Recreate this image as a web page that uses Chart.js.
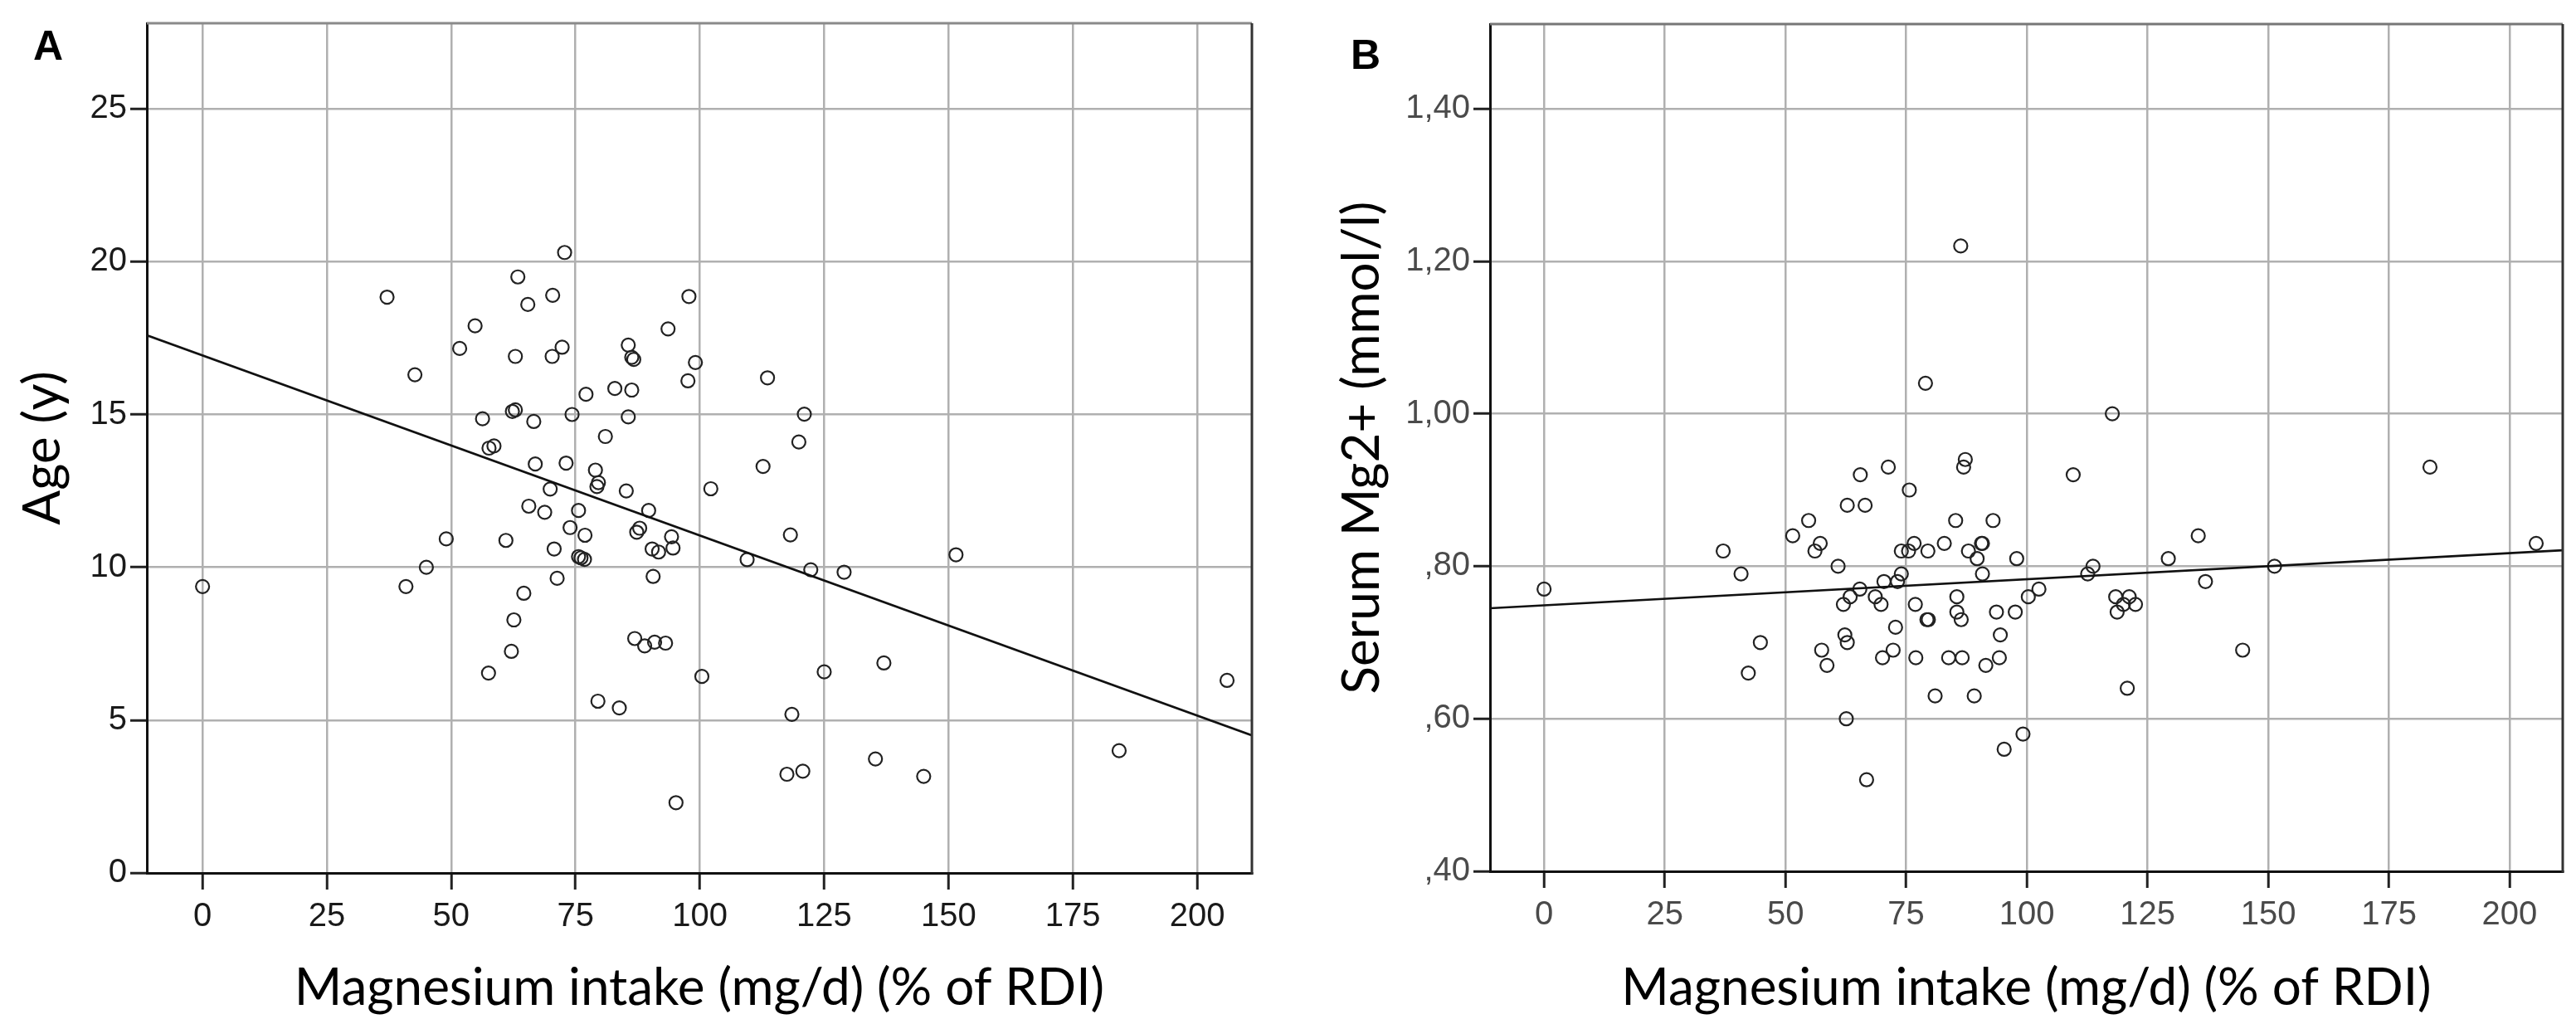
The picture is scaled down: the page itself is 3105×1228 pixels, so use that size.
<!DOCTYPE html>
<html>
<head>
<meta charset="utf-8">
<script src="https://cdn.jsdelivr.net/npm/chart.js@4.4.1/dist/chart.umd.min.js"></script>
<style>
  html, body { margin: 0; padding: 0; background: #fff; }
  body { width: 3105px; height: 1228px; position: relative; overflow: hidden; }
  canvas { position: absolute; top: 0; }
  #chartA { left: 0; }
  #chartB { left: 1560px; }
  .panel-label { position: absolute; font: bold 50px 'Liberation Sans', Arial, sans-serif; line-height: 50px; color: #000; }
</style>
</head>
<body>
<canvas id="chartA" width="1560" height="1228"></canvas>
<canvas id="chartB" width="1545" height="1228"></canvas>
<div class="panel-label" style="left:40px; top:30px">A</div>
<div class="panel-label" style="left:1628px; top:41px">B</div>
<script>
// Panel A: magnesium intake (% of RDI) vs age
const intakeA = [72.8, 63.4, 37.1, 70.4, 65.4, 97.8, 54.8, 93.6, 51.7, 72.3,
  62.9, 70.3, 85.6, 86.3, 86.7, 99.1, 42.7, 113.6, 97.6, 77.1,
  82.9, 86.3, 62.3, 62.9, 56.3, 66.6, 74.3, 85.6, 121.0, 81.0,
  119.9, 57.6, 58.6, 66.9, 73.1, 79.0, 112.7, 79.6, 79.3, 69.9,
  85.2, 102.2, 65.6, 68.8, 75.6, 89.7, 73.9, 76.9, 87.3, 87.9,
  94.3, 94.6, 90.4, 91.7, 118.2, 49.0, 61.0, 70.7, 75.6, 76.1,
  76.8, 109.5, 122.3, 129.0, 45.0, 40.9, 71.3, 90.6, 64.6, 62.6,
  62.1, 57.5, 86.9, 88.9, 90.9, 93.1, 100.4, 125.0, 79.5, 83.8,
  118.5, 117.5, 120.7, 95.2, 0, 135.3, 137.0, 145.0, 151.5, 184.3,
  206.0];
const ageA = [20.3, 19.5, 18.84, 18.9, 18.6, 18.86, 17.9, 17.8, 17.16, 17.2,
  16.9, 16.9, 17.27, 16.87, 16.8, 16.7, 16.3, 16.2, 16.1, 15.66,
  15.85, 15.8, 15.1, 15.15, 14.86, 14.77, 15.0, 14.92, 15.01, 14.28,
  14.1, 13.9, 13.97, 13.38, 13.41, 13.18, 13.3, 12.77, 12.64, 12.56,
  12.5, 12.57, 12.0, 11.8, 11.86, 11.86, 11.3, 11.05, 11.15, 11.28,
  11.0, 10.63, 10.6, 10.5, 11.06, 10.93, 10.88, 10.6, 10.35, 10.31,
  10.26, 10.25, 9.92, 9.84, 10.0, 9.37, 9.64, 9.7, 9.15, 8.28,
  7.25, 6.54, 7.67, 7.43, 7.55, 7.52, 6.43, 6.58, 5.62, 5.4,
  5.19, 3.23, 3.33, 2.3, 9.37, 3.73, 6.87, 3.16, 10.41, 4.0,
  6.3];

// Panel B: magnesium intake (% of RDI) vs serum Mg2+
const intakeB = [86.3, 79.0, 117.7, 87.25, 86.9, 109.6, 71.3, 65.5, 75.65, 62.8,
  66.5, 54.8, 85.25, 93.0, 51.5, 135.5, 37.1, 57.2, 56.1, 74.0,
  75.5, 76.65, 79.5, 82.9, 87.9, 90.6, 90.8, 89.7, 97.9, 129.3,
  40.8, 60.9, 74.0, 90.8, 113.7, 112.6, 151.3, 137.0, 70.4, 73.2,
  65.4, 102.5, 63.4, 68.6, 85.5, 100.3, 118.4, 121.2, 62.0, 69.8,
  76.9, 122.5, 120.0, 85.5, 86.4, 79.3, 79.6, 93.7, 97.6, 118.7,
  72.8, 94.5, 62.3, 62.8, 44.8, 57.5, 72.3, 144.7, 58.6, 70.1,
  77.0, 83.8, 86.6, 94.3, 91.5, 42.3, 120.8, 81.0, 89.1, 62.6,
  99.2, 95.3, 66.8, 0, 183.5, 205.5];
const serumB = [1.22, 1.04, 1.00, 0.94, 0.93, 0.92, 0.93, 0.92, 0.90, 0.88,
  0.88, 0.86, 0.86, 0.86, 0.84, 0.84, 0.82, 0.83, 0.82, 0.82,
  0.82, 0.83, 0.82, 0.83, 0.82, 0.83, 0.83, 0.81, 0.81, 0.81,
  0.79, 0.80, 0.79, 0.79, 0.80, 0.79, 0.80, 0.78, 0.78, 0.78,
  0.77, 0.77, 0.76, 0.76, 0.76, 0.76, 0.76, 0.76, 0.75, 0.75,
  0.75, 0.75, 0.75, 0.74, 0.73, 0.73, 0.73, 0.74, 0.74, 0.74,
  0.72, 0.71, 0.71, 0.70, 0.70, 0.69, 0.69, 0.69, 0.67, 0.68,
  0.68, 0.68, 0.68, 0.68, 0.67, 0.66, 0.64, 0.63, 0.63, 0.60,
  0.58, 0.56, 0.52, 0.77, 0.93, 0.83];

// fitted lines, read at both ends of the x range
const fitX = [-11.2, 211];
const fitA = [17.59, 4.5];
const fitB = [0.745, 0.821];

// ticks
const xTicks = [0, 25, 50, 75, 100, 125, 150, 175, 200];
const yTicksA = [0, 5, 10, 15, 20, 25];
const yTicksB = [0.4, 0.6, 0.8, 1.0, 1.2, 1.4];
const yLabelsB = [',40', ',60', ',80', '1,00', '1,20', '1,40'];

const tickFont = { family: "'Liberation Sans Narrow', 'Liberation Sans', sans-serif", size: 40 };
const titleFont = { family: 'Lato, sans-serif', size: 62 };

const framePlugin = {
  id: 'frame',
  afterDatasetsDraw(chart, args, opts) {
    const { ctx, chartArea: a } = chart;
    ctx.save();
    ctx.lineWidth = 3;
    ctx.strokeStyle = opts.topColor;
    ctx.beginPath();
    ctx.moveTo(a.left, a.top);
    ctx.lineTo(a.right, a.top);
    ctx.stroke();
    ctx.strokeStyle = opts.rightColor;
    ctx.beginPath();
    ctx.moveTo(a.right, a.top);
    ctx.lineTo(a.right, a.bottom + 1.5);
    ctx.stroke();
    ctx.restore();
  }
};

const buildChart = (canvasId, xs, ys, fitY, cfg) => {
  const points = xs.map((x, i) => ({ x, y: ys[i] }));
  const fit = fitX.map((x, i) => ({ x, y: fitY[i] }));

  return new Chart(document.getElementById(canvasId), {
    type: 'scatter',
    data: {
      datasets: [
        {
          data: points,
          pointStyle: 'circle',
          pointRadius: 8,
          pointBorderWidth: 2.2,
          pointBackgroundColor: 'rgba(0,0,0,0)',
          pointBorderColor: '#222',
          order: 2,
        },
        {
          data: fit,
          showLine: true,
          pointRadius: 0,
          borderColor: '#111',
          borderWidth: 2.6,
          order: 1,
        },
      ],
    },
    plugins: [framePlugin],
    options: {
      responsive: false,
      animation: false,
      events: [],
      layout: { padding: cfg.padding },
      plugins: {
        legend: { display: false },
        tooltip: { enabled: false },
        frame: { topColor: cfg.topColor, rightColor: '#333' },
      },
      scales: {
        x: {
          type: 'linear',
          min: fitX[0],
          max: fitX[1],
          afterBuildTicks: s => { s.ticks = xTicks.map(v => ({ value: v })); },
          afterFit: s => { s.height = cfg.xAxisHeight; },
          grid: { color: '#b0b0b0', lineWidth: 2.5, tickColor: '#222', tickLength: 20, tickWidth: 3 },
          border: { color: '#111', width: 3 },
          ticks: { font: tickFont, color: cfg.tickColor, padding: 9, maxRotation: 0, autoSkip: false },
          title: {
            display: true,
            text: 'Magnesium intake (mg/d) (% of RDI)',
            font: titleFont,
            color: '#000',
            padding: { top: 10, bottom: 0 },
          },
        },
        y: {
          type: 'linear',
          min: cfg.yMin,
          max: cfg.yMax,
          afterBuildTicks: s => { s.ticks = cfg.yTicks.map(v => ({ value: v })); },
          afterFit: s => { s.width = cfg.yAxisWidth; },
          grid: { color: '#b0b0b0', lineWidth: 2.5, tickColor: '#222', tickLength: 20, tickWidth: 3 },
          border: { color: '#111', width: 3 },
          ticks: {
            font: tickFont,
            color: cfg.tickColor,
            padding: 4,
            autoSkip: false,
            callback: (v, i) => cfg.yLabels[i],
          },
          title: {
            display: true,
            text: cfg.yTitle,
            font: titleFont,
            color: '#000',
            padding: { top: cfg.yTitlePad, bottom: 0 },
          },
        },
      },
    },
  });
};

buildChart('chartA', intakeA, ageA, fitA, {
  padding: { top: 25, right: 51, left: 0, bottom: 0 },
  xAxisHeight: 176,
  yAxisWidth: 177,
  yMin: 0,
  yMax: 27.8,
  yTicks: yTicksA,
  yLabels: yTicksA.map(String),
  yTitle: 'Age (y)',
  yTitlePad: 15,
  tickColor: '#1a1a1a',
  topColor: '#8a8a8a',
});

buildChart('chartB', intakeB, serumB, fitB, {
  padding: { top: 29, right: 16, left: 0, bottom: 0 },
  xAxisHeight: 178,
  yAxisWidth: 236,
  yMin: 0.4,
  yMax: 1.511,
  yTicks: yTicksB,
  yLabels: yLabelsB,
  yTitle: 'Serum Mg2+ (mmol/l)',
  yTitlePad: 45,
  tickColor: '#4a4a4a',
  topColor: '#777',
});
</script>
</body>
</html>
